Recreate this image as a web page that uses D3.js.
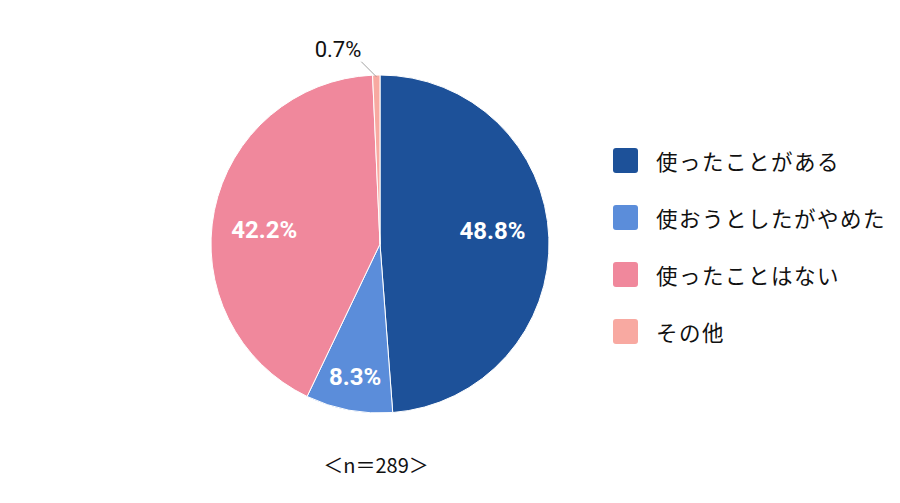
<!DOCTYPE html>
<html><head><meta charset="utf-8">
<script src="https://cdn.jsdelivr.net/npm/d3@7"></script>
<style>body{margin:0;background:#fff;} svg{display:block;}</style>
</head><body>
<svg id="c" width="900" height="503"></svg>
<script>
const categories = ["使ったことがある","使おうとしたがやめた","使ったことはない","その他"];
const values = [48.8, 8.3, 42.2, 0.7];
const valueLabels = ["48.8%","8.3%","42.2%","0.7%"];
const colors = ["#1D5199","#5B8DDA","#F0889C","#F8A9A1"];
const note = "＜n＝289＞";

const svg = d3.select("#c");
const cx = 380, cy = 244, r = 169;
const g = svg.append("g").attr("transform", `translate(${cx},${cy})`);
const pie = d3.pie().sort(null).value(d => d)(values);
const arc = d3.arc().innerRadius(0).outerRadius(r);
g.selectAll("path").data(pie).join("path")
  .attr("d", arc).attr("fill", (d,i) => colors[i])
  .attr("stroke", "#fff").attr("stroke-width", 1);

const font = "'Noto Sans CJK JP','Noto Sans',sans-serif";
const lf = [0.67, 0.8, 0.69];
const rot = [-4.5, 0, -4.5];
pie.forEach((d,i) => {
  const a = (d.startAngle + d.endAngle)/2;
  if (i < 3) {
    const aa = a + rot[i]*Math.PI/180;
    const rr = r*lf[i];
    g.append("text").attr("x", rr*Math.sin(aa)).attr("y", -rr*Math.cos(aa))
      .attr("text-anchor","middle").attr("dominant-baseline","central")
      .attr("fill","#fff").attr("font-weight","bold").attr("font-size",24)
      .attr("font-family", "Roboto,'Noto Sans',sans-serif").text(valueLabels[i]);
  } else {
    const p1 = [r*Math.sin(a)*0.99, -r*Math.cos(a)*0.99];
    const p0 = [p1[0]-15, p1[1]-15];
    g.append("line").attr("x1",p0[0]).attr("y1",p0[1]).attr("x2",p1[0]).attr("y2",p1[1])
      .attr("stroke","#888").attr("stroke-width",0.8);
    g.append("text").attr("x", p0[0]).attr("y", p0[1]-12)
      .attr("text-anchor","end").attr("dominant-baseline","central")
      .attr("fill","#111").attr("font-size",22)
      .attr("font-family","Roboto,'Noto Sans',sans-serif").text(valueLabels[i]);
  }
});

const leg = svg.append("g").attr("transform","translate(613,148)");
categories.forEach((c,i) => {
  const y = i*57;
  leg.append("rect").attr("x",0).attr("y",y).attr("width",25).attr("height",25)
    .attr("rx",3).attr("fill",colors[i]);
  leg.append("text").attr("x",43).attr("y",y+12.5).attr("dominant-baseline","central")
    .attr("font-size",21.5).attr("letter-spacing",1.5).attr("font-family",font).attr("fill","#111").text(c);
});

svg.append("text").attr("x",376).attr("y",464).attr("text-anchor","middle")
  .attr("dominant-baseline","central").attr("font-size",20)
  .attr("font-family",font).attr("fill","#111").text(note);
</script>
</body></html>
